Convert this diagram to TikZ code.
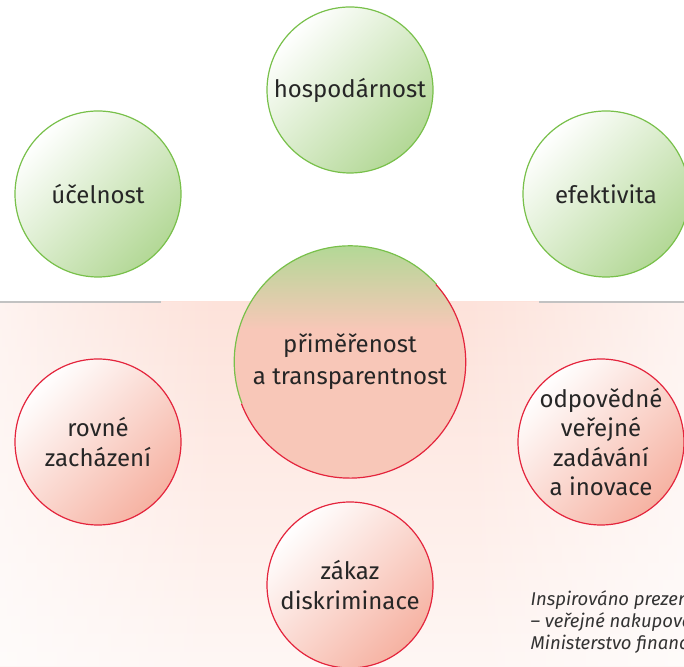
\documentclass[tikz,border=0pt]{standalone}
\usepackage{fontspec}
\setmainfont{Fira Sans}
\usetikzlibrary{positioning, fadings}

\definecolor{leafgreen}{HTML}{78C04A}
\definecolor{palegreen}{HTML}{B3D896}
\definecolor{rosered}{HTML}{E4243C}
\definecolor{salmon}{HTML}{F6B2A2}
\definecolor{centresalmon}{HTML}{F8C7B8}
\definecolor{blush}{HTML}{FDE2DA}
\definecolor{inkgray}{HTML}{262626}
\definecolor{notegray}{HTML}{333333}
\definecolor{rulegray}{HTML}{C2C2C2}

% green cap fading into the salmon body of the middle circle
\pgfdeclareverticalshading{centrefill}{100bp}{color(0bp)=(centresalmon); color(57bp)=(centresalmon); color(75bp)=(palegreen); color(100bp)=(palegreen)}

\begin{document}
\begin{tikzpicture}[
            x = 1pt, y = 1pt, % one unit per pixel
            on grid, % node distances are centre to centre
            semithick % line style
        ]

        \tikzstyle{principle}=[
            circle,
            minimum size = 166pt,
            inner sep = 0pt,
            align = center,
            text = inkgray,
            font = \fontsize{24}{29.5}\selectfont
        ]
        \tikzstyle{green principle}=[principle, draw = leafgreen, line width = 1.2pt,
            top color = white, bottom color = palegreen, shading angle = 45]
        \tikzstyle{red principle}=[principle, draw = rosered, line width = 1.2pt,
            top color = white, bottom color = salmon, shading angle = 45]

        \useasboundingbox (0,0) rectangle (684,666);
        \clip (0,0) rectangle (684,666);

        % lower band
        \shade[top color = blush, bottom color = white!70!blush] (0,0) rectangle (684,364);
        \fill[white, fill opacity = 0.6, path fading = east] (0,0) rectangle (220,364);
        \fill[white, fill opacity = 0.6, path fading = west] (464,0) rectangle (684,364);
        \draw[rulegray, line width = 2pt] (0,364) -- (161,364);
        \draw[rulegray, line width = 2pt] (539,364) -- (684,364);

        % middle circle
        \node[principle, minimum size = 232pt, shading = centrefill, font = \fontsize{24}{32}\selectfont]
            (centre) at (350,304) {přiměřenost\\a transparentnost};
        \draw[leafgreen, line width = 1.2pt] (centre.42) arc[start angle = 42, end angle = 201, radius = 116pt];
        \draw[rosered, line width = 1.2pt] (centre.201) arc[start angle = 201, end angle = 402, radius = 116pt];

        % upper circles
        \node[green principle] (hospodarnost) [above=272pt of centre] {hospodárnost};
        \node[green principle] (ucelnost) [above left=168pt and 252pt of centre] {účelnost};
        \node[green principle] (efektivita) [above right=168pt and 256pt of centre] {efektivita};

        % lower circles
        \node[red principle] (rovne) [below left=80pt and 252pt of centre] {rovné\\zacházení};
        \node[red principle] (odpovedne) [below right=80pt and 251pt of centre] {odpovědné\\veřejné\\zadávání\\a inovace};
        \node[red principle] (zakaz) [below=223pt of centre] {zákaz\\diskriminace};

        % source note
        \node[anchor = west, align = left, text = notegray, font = \itshape\fontsize{18.5}{22}\selectfont]
            (source) at (527,44) {Inspirováno prezentací\\– veřejné nakupování\\Ministerstvo financí};

    \end{tikzpicture}
\end{document}
